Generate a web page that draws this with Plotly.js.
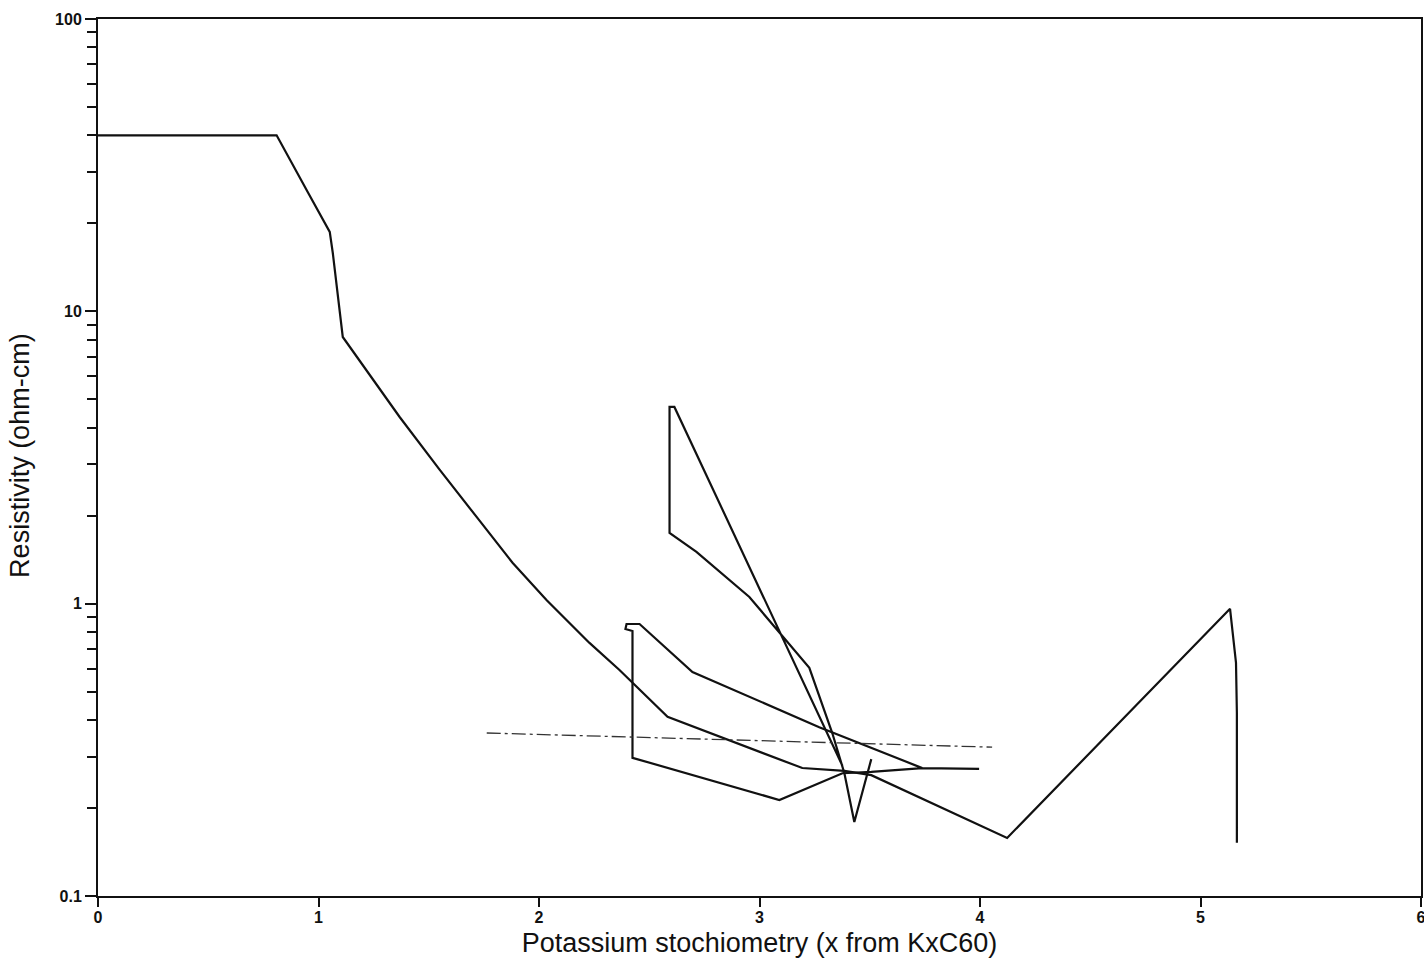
<!DOCTYPE html>
<html>
<head>
<meta charset="utf-8">
<script src="https://cdn.plot.ly/plotly-3.0.1.min.js"></script>
<style>html,body{margin:0;padding:0;background:#fff;}#chart{width:1424px;height:971px;}</style>
</head>
<body>
<div id="chart"></div>
<script>
// Series A: main curve
const xA = [0, 0.81, 0.951, 1.051, 1.065, 1.110, 1.368, 1.550, 1.717, 1.880, 2.034, 2.229, 2.365, 2.583, 3.194, 3.385, 3.507, 4.123, 5.134, 5.161, 5.165, 5.165];
const yA = [40, 40, 25.6, 18.7, 15.8, 8.17, 4.35, 2.87, 1.98, 1.38, 1.03, 0.734, 0.593, 0.410, 0.274, 0.268, 0.259, 0.158, 0.96, 0.627, 0.423, 0.152];
// Series B: hooked curve
const xB = [3.996, 3.738, 3.271, 2.696, 2.456, 2.397, 2.392, 2.424, 2.424, 3.090, 3.376, 3.507, 3.738];
const yB = [0.272, 0.274, 0.378, 0.584, 0.852, 0.852, 0.819, 0.806, 0.297, 0.213, 0.263, 0.266, 0.274];
// Series C: tall loop
const xC = [3.376, 2.614, 2.592, 2.592, 2.714, 2.954, 3.226, 3.330, 3.385, 3.430, 3.507];
const yC = [0.279, 4.71, 4.71, 1.745, 1.503, 1.054, 0.603, 0.361, 0.263, 0.179, 0.294];
// Series D: dash-dot reference line
const xD = [1.763, 4.055];
const yD = [0.361, 0.323];
// Axis ticks
const xTicks = [0, 1, 2, 3, 4, 5, 6];
const yTicks = [0.1, 1, 10, 100];
const yTickText = ['0.1', '1', '10', '100'];
const yMinor = [0.2,0.3,0.4,0.5,0.6,0.7,0.8,0.9,2,3,4,5,6,7,8,9,20,30,40,50,60,70,80,90];

const lineStyle = {color: '#111', width: 2.2};
const traces = [
  {x: xA, y: yA, mode: 'lines', line: lineStyle, showlegend: false},
  {x: xB, y: yB, mode: 'lines', line: lineStyle, showlegend: false},
  {x: xC, y: yC, mode: 'lines', line: lineStyle, showlegend: false},
  {x: xD, y: yD, mode: 'lines', line: {color: '#333', width: 1.3, dash: '14px,4px,3px,4px'}, showlegend: false}
];

const tickFont = {family: 'Liberation Sans, Arial, sans-serif', size: 16, color: '#111', weight: 'bold'};
const layout = {
  width: 1424, height: 971,
  margin: {l: 98, r: 3, t: 19, b: 75},
  paper_bgcolor: '#fff', plot_bgcolor: '#fff',
  showlegend: false,
  xaxis: {
    range: [0, 6], tickvals: xTicks, ticks: 'outside', ticklen: 9, tickwidth: 2, tickcolor: '#111',
    showline: true, linecolor: '#111', linewidth: 2, mirror: true, showgrid: false, zeroline: false,
    tickfont: tickFont, ticklabeloverflow: 'allow', ticklabelstandoff: -3,
    title: {text: 'Potassium stochiometry (x from KxC60)', font: {family: 'Liberation Sans, Arial, sans-serif', size: 27, color: '#111'}, standoff: 8},
    automargin: false
  },
  yaxis: {
    type: 'log', range: [-1, 2], tickvals: yTicks, ticktext: yTickText,
    ticks: 'outside', ticklen: 11, tickwidth: 2, tickcolor: '#111',
    minor: {tickvals: yMinor, ticks: 'outside', ticklen: 9, tickwidth: 2, tickcolor: '#111', showgrid: false},
    showline: true, linecolor: '#111', linewidth: 2, mirror: true, showgrid: false, zeroline: false,
    tickfont: tickFont, ticklabeloverflow: 'allow', automargin: false
  },
  annotations: [{
    text: 'Resistivity (ohm-cm)', xref: 'paper', yref: 'paper',
    x: (20 - 98) / 1321, y: (896 - 455) / 877, xanchor: 'center', yanchor: 'middle',
    textangle: -90, showarrow: false,
    font: {family: 'Liberation Sans, Arial, sans-serif', size: 27, color: '#111'}
  }]
};
Plotly.newPlot('chart', traces, layout, {displayModeBar: false, staticPlot: true});
</script>
</body>
</html>
